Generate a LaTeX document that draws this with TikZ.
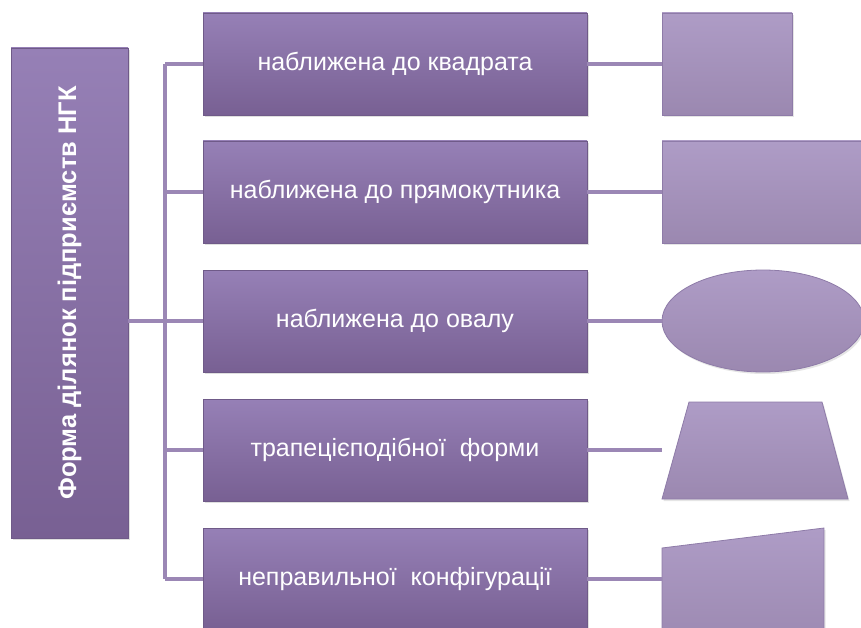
\documentclass[tikz,border=0pt]{standalone}
\usepackage{fontspec}
\setmainfont{Liberation Sans}
\usepackage{graphicx}
\usepackage{xcolor}
\usetikzlibrary{positioning,shapes.geometric,shadows}
\definecolor{boxtop}{HTML}{9680B6}
\definecolor{boxbot}{HTML}{786093}
\definecolor{boxedge}{HTML}{6F5A88}
\definecolor{shptop}{HTML}{AE9CC6}
\definecolor{shpbot}{HTML}{9B88B0}
\definecolor{shpedge}{HTML}{8E7BA8}
\definecolor{linkcol}{HTML}{9B87B5}
\tikzset{%
	titlebox/.style = {rectangle, draw=boxedge, line width=0.8pt, top color=boxtop, bottom color=boxbot, text=white, minimum width=117pt, minimum height=490pt, inner sep=0pt, font=\fontsize{25.5}{30}\selectfont\bfseries, drop shadow={opacity=0.25, shadow xshift=1.5pt, shadow yshift=-2pt}},
	kindbox/.style  = {rectangle, draw=boxedge, line width=0.8pt, top color=boxtop, bottom color=boxbot, text=white, minimum width=384pt, minimum height=102pt, font=\fontsize{25}{29}\selectfont, drop shadow={opacity=0.25, shadow xshift=1.5pt, shadow yshift=-2pt}},
	shapefill/.style= {draw=shpedge, line width=0.8pt, top color=shptop, bottom color=shpbot, inner sep=0pt, drop shadow={opacity=0.2, shadow xshift=1.5pt, shadow yshift=-2pt}},
	link/.style     = {draw=linkcol, line width=3.5pt},
}
\begin{document}
\begin{tikzpicture}[x=1pt,y=-1pt]
	\fill[white] (0,0) rectangle (861,628);
	\useasboundingbox (0,0) rectangle (861,628);
	\clip (0,0) rectangle (861,628);
	% left title
	\node[titlebox] (form) at (69.5,293) {\rotatebox{90}{Форма ділянок підприємств НГК}};
	% middle column
	\node[kindbox] (kind1) at (395,64)  {наближена до квадрата};
	\node[kindbox] (kind2) at (395,192) {наближена до прямокутника};
	\node[kindbox] (kind3) at (395,321) {наближена до овалу};
	\node[kindbox] (kind4) at (395,450) {трапецієподібної~ форми};
	\node[kindbox] (kind5) at (395,579) {неправильної~ конфігурації};
	% right column shapes
	\node[shapefill, rectangle, minimum width=130pt, minimum height=102pt] (shp1) at (727,64) {};
	\node[shapefill, rectangle, minimum width=208pt, minimum height=102pt] (shp2) at (766,192) {};
	\node[shapefill, ellipse, minimum width=202pt, minimum height=102pt] (shp3) at (763,321) {};
	\draw[shapefill] (662,499) -- (689,402) -- (822,402) -- (848,499) -- cycle;
	\draw[shapefill] (662,548) -- (824,528) -- (824,650) -- (662,650) -- cycle;
	\coordinate (shp4) at (662,450);
	\coordinate (shp5) at (662,579);
	% tree lines
	\coordinate (trunk) at (165,0);
	\draw[link] (trunk |- kind1) -- (trunk |- kind5);
	\draw[link] (form.east |- kind3) -- (trunk |- kind3);
	\foreach \i in {1,...,5}
		\draw[link] (trunk |- kind\i) -- (kind\i.west);
	\draw[link] (kind1.east) -- (shp1.west);
	\draw[link] (kind2.east) -- (shp2.west);
	\draw[link] (kind3.east) -- (shp3.west);
	\draw[link] (kind4.east) -- (shp4);
	\draw[link] (kind5.east) -- (shp5);
\end{tikzpicture}
\end{document}
